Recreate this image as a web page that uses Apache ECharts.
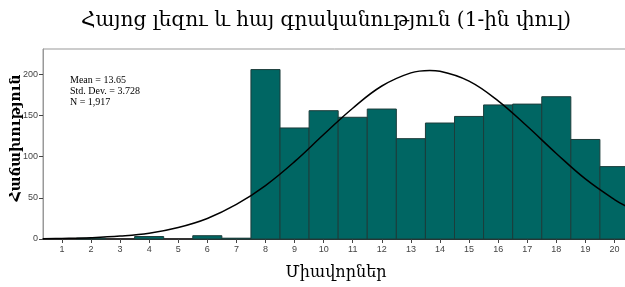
<!DOCTYPE html>
<html>
<head>
<meta charset="utf-8">
<script src="https://cdn.jsdelivr.net/npm/echarts@6/dist/echarts.min.js"></script>
<style>
  html, body { margin: 0; padding: 0; background: #fff; }
  #chart { width: 625px; height: 287px; }
</style>
</head>
<body>
<div id="chart"></div>
<script>
// histogram bins (score 1..20) and counts
const scores = [1, 2, 3, 4, 5, 6, 7, 8, 9, 10, 11, 12, 13, 14, 15, 16, 17, 18, 19, 20];
const counts = [0, 1, 0, 3, 0, 4, 1, 206, 135, 156, 148, 158, 122, 141, 149, 163, 164, 173, 121, 88];

// normal curve
const curveX = [0.35, 1, 2, 3, 4, 5, 6, 7, 8, 9, 10, 11, 12, 13, 13.65, 14, 15, 16, 17, 18, 19, 20, 20.5];
const curveY = [0.4, 0.7, 1.6, 3.5, 7, 14, 25, 42, 65, 94, 127, 159, 186, 202, 205, 204, 192, 168, 137, 104, 73, 48, 38];

const statsText = ["Mean = 13.65", "Std. Dev. = 3.728", "N = 1,917"];
const yName = "Հաճախություն";

const chart = echarts.init(document.getElementById("chart"));

chart.setOption({
    animation: false,
    title: {
        text: "Հայոց լեզու և հայ գրականություն (1-ին փուլ)",
        left: 76,
        top: 6,
        textStyle: {
            fontFamily: "DejaVu Serif",
            fontWeight: "normal",
            fontSize: 20,
            color: "#000"
        }
    },
    grid: {
        left: 43,
        top: 49,
        width: 586,
        height: 190,
        outerBoundsMode: "none",
        containLabel: false,
        show: true,
        borderColor: "#999",
        borderWidth: 1
    },
    graphic: [
        {
            type: "text",
            left: 70,
            top: 75,
            style: {
                text: statsText.join("\n"),
                font: "10px 'Liberation Serif'",
                lineHeight: 11,
                fill: "#000"
            }
        },
        {
            // y axis title, rotated
            type: "text",
            x: 16,
            y: 138,
            rotation: Math.PI / 2,
            style: {
                text: yName,
                font: "bold 14px 'DejaVu Serif'",
                fill: "#000",
                align: "center",
                verticalAlign: "middle"
            }
        }
    ],
    xAxis: {
        type: "value",
        min: 0.35,
        max: 20.5,
        name: "Միավորներ",
        nameLocation: "middle",
        nameGap: 26,
        nameTextStyle: { fontFamily: "DejaVu Serif", fontSize: 16, color: "#000" },
        splitLine: { show: false },
        axisLine: { lineStyle: { color: "#000", width: 1.5 } },
        axisTick: { customValues: scores, length: 4, lineStyle: { color: "#444" } },
        axisLabel: {
            customValues: scores,
            fontFamily: "Liberation Sans",
            fontSize: 9,
            color: "#444",
            margin: 6
        }
    },
    yAxis: {
        type: "value",
        min: 0,
        max: 231,
        interval: 50,
        splitLine: { show: false },
        axisLine: { show: true, lineStyle: { color: "#999" } },
        axisTick: { show: true, length: 4, lineStyle: { color: "#444" } },
        axisLabel: {
            showMaxLabel: false,
            fontFamily: "Liberation Sans",
            fontSize: 9,
            color: "#444",
            margin: 5
        }
    },
    series: [
        {
            type: "custom",
            data: scores.map((s, i) => [s, counts[i]]),
            renderItem: (params, api) => {
                const x = api.value(0);
                const y = api.value(1);
                if (!y) return null;
                const p0 = api.coord([x - 0.5, y]);
                const p1 = api.coord([x + 0.5, 0]);
                return {
                    type: "rect",
                    shape: { x: p0[0], y: p0[1], width: p1[0] - p0[0], height: p1[1] - p0[1] },
                    style: { fill: "#006663", stroke: "#1c3d3b", lineWidth: 1 }
                };
            },
            z: 2
        },
        {
            type: "line",
            data: curveX.map((x, i) => [x, curveY[i]]),
            smooth: 0.4,
            showSymbol: false,
            lineStyle: { color: "#000", width: 1.5 },
            z: 3
        }
    ]
});
</script>
</body>
</html>
